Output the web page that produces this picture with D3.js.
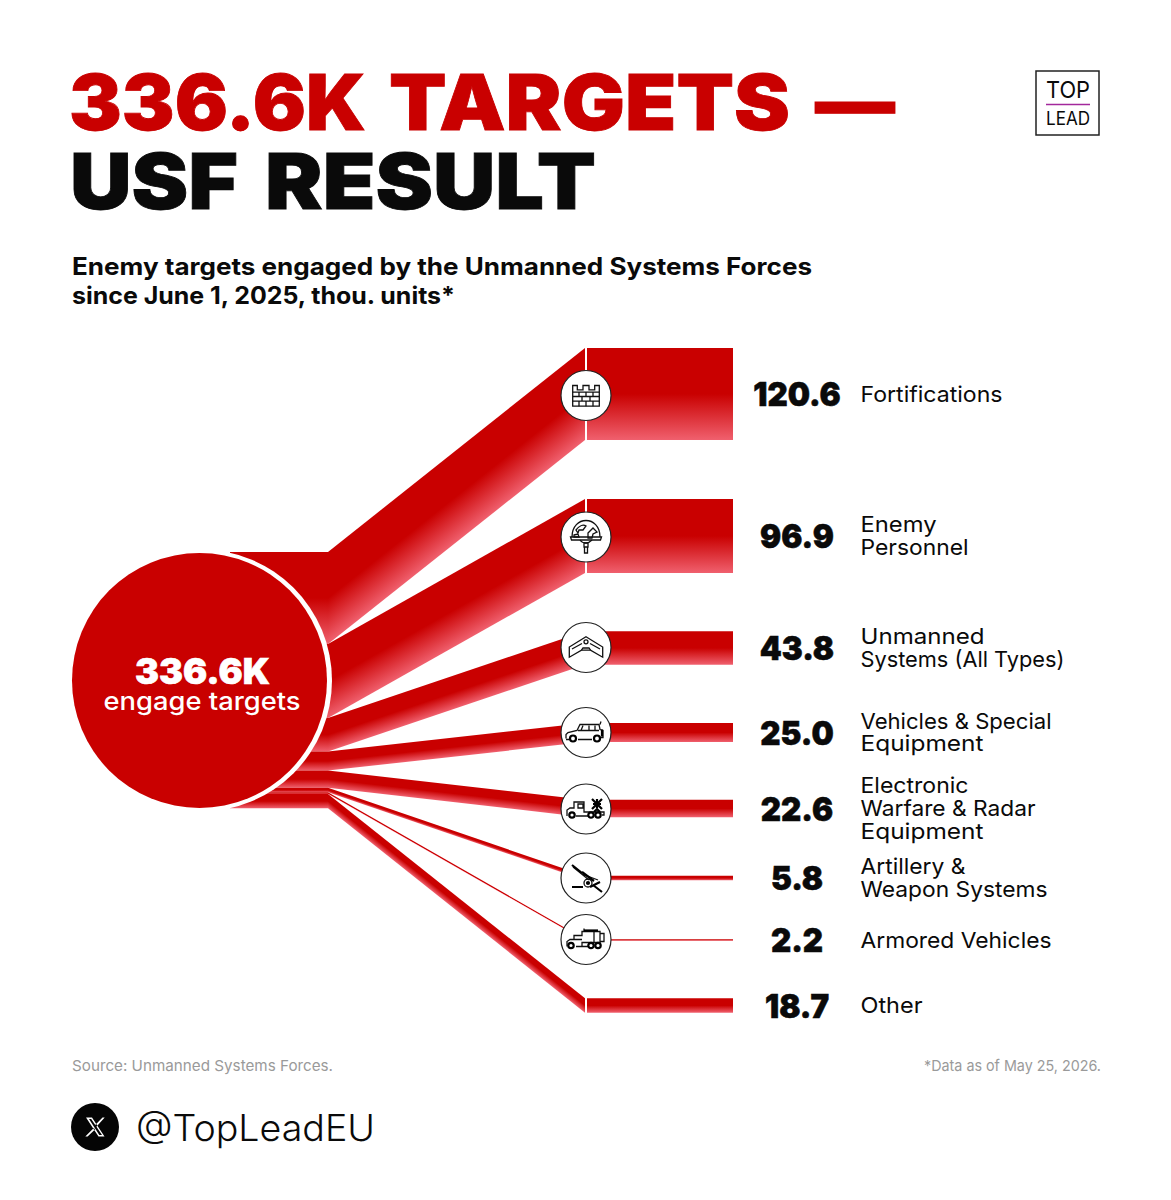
<!DOCTYPE html>
<html>
<head>
<meta charset="utf-8">
<script src="https://cdn.jsdelivr.net/npm/d3@7"></script>
<style>
  html, body { margin: 0; background: #fff; }
  svg { display: block; }
  text { font-family: Inter, "Open Sans", sans-serif; fill: #0a0a0a; }
</style>
</head>
<body>
<svg width="1171" height="1200"></svg>
<script>
const total = 336.6;
const categories = ["Fortifications", "Enemy Personnel", "Unmanned Systems (All Types)", "Vehicles & Special Equipment",
                    "Electronic Warfare & Radar Equipment", "Artillery & Weapon Systems", "Armored Vehicles", "Other"];
const values = [120.6, 96.9, 43.8, 25.0, 22.6, 5.8, 2.2, 18.7];
const labelLines = [["Fortifications"], ["Enemy", "Personnel"], ["Unmanned", "Systems (All Types)"], ["Vehicles & Special", "Equipment"],
                    ["Electronic", "Warfare & Radar", "Equipment"], ["Artillery &", "Weapon Systems"], ["Armored Vehicles"], ["Other"]];
const iconNames = ["wall", "helmet", "drone", "jeep", "radar", "gun", "armored", null];

// drawn width of each label line, the original face is wider than Inter
const lineWidths = { "Fortifications": 142, "Enemy": 76, "Personnel": 108, "Unmanned": 124, "Systems (All Types)": 204,
                     "Vehicles & Special": 191, "Equipment": 123, "Electronic": 108, "Warfare & Radar": 175,
                     "Artillery &": 105, "Weapon Systems": 187, "Armored Vehicles": 191, "Other": 62 };

const red = "#c90000", pink = "#f0606e";
const stackTop = 552, stackLeft = 230, fanX = 328, rowX = 587, rowEnd = 733, iconX = 586, iconR = 25;

const svg = d3.select("svg");
const defs = svg.append("defs");

// band thickness follows the value, row centres are picked by hand like the original layout
const thick = d3.scaleLinear().domain([0, total]).range([0, 257]);
const rowMid = d3.scaleOrdinal().domain(categories).range([394, 536, 648, 732.5, 808.5, 878, 940, 1005.5]);
const iconMid = d3.scaleOrdinal().domain(categories).range([395.5, 537, 647.5, 732.5, 809, 878, 939.5, 1005]);

let running = 0;
const bands = categories.map((name, i) => {
    const h = thick(values[i]);
    const y0 = stackTop + thick(running);
    running += values[i];
    return { name, i, value: values[i], h, y0, top: rowMid(name) - h / 2, lines: labelLines[i], icon: iconNames[i] };
});

function addGradient(id, attrs) {
    const g = defs.append("linearGradient").attr("id", id);
    Object.entries(attrs).forEach(([k, v]) => g.attr(k, v));
    g.append("stop").attr("offset", 0).attr("stop-color", red);
    g.append("stop").attr("offset", 0.5).attr("stop-color", red);
    g.append("stop").attr("offset", 1).attr("stop-color", pink);
}
addGradient("flat", { x1: 0, y1: 0, x2: 0, y2: 1 });

const area = d3.area().x(d => d[0]).y0(d => d[1]).y1(d => d[2]);
const gBands = svg.append("g");

bands.forEach(b => {
    // stub behind the hub
    gBands.append("path").attr("fill", "url(#flat)")
        .attr("d", area([[stackLeft, b.y0, b.y0 + b.h], [fanX, b.y0, b.y0 + b.h]]));

    // sloped part, gradient runs across the band
    const dx = rowX - 2 - fanX, dy = b.top - b.y0;
    const len = Math.hypot(dx, dy);
    const nx = -dy / len, ny = dx / len;
    const across = b.h * dx / len;
    const mx = fanX + dx / 2, my = b.y0 + dy / 2;
    addGradient("slope" + b.i, { gradientUnits: "userSpaceOnUse", x1: mx, y1: my, x2: mx + nx * across, y2: my + ny * across });
    gBands.append("path").attr("fill", `url(#slope${b.i})`)
        .attr("d", area([[fanX, b.y0, b.y0 + b.h], [rowX - 2, b.top, b.top + b.h]]));

    // straight part
    gBands.append("path").attr("fill", "url(#flat)")
        .attr("d", area([[rowX, b.top, b.top + b.h], [rowEnd, b.top, b.top + b.h]]));
});

// hub: the white ring sits off-centre so it only shows on the right
svg.append("circle").attr("cx", 201).attr("cy", 680.5).attr("r", 131).attr("fill", "#fff");
svg.append("circle").attr("cx", 199.5).attr("cy", 680.5).attr("r", 127.5).attr("fill", red);

function put(parent, str, x, y, size, weight, opts = {}) {
    const t = parent.append("text").attr("x", x).attr("y", y).text(str)
        .attr("font-size", size).attr("font-weight", weight)
        .attr("text-anchor", opts.anchor || "start");
    if (opts.fill) t.style("fill", opts.fill);
    if (opts.heavy) t.style("stroke", opts.fill || "#0a0a0a").style("stroke-width", opts.heavy);
    const w = opts.width || (opts.stretch ? t.node().getComputedTextLength() * opts.stretch : 0);
    if (w) t.attr("textLength", w).attr("lengthAdjust", "spacingAndGlyphs");
    return t;
}

// headline words are fitted one by one inside a single text element
function headline(y, words, fill) {
    const t = svg.append("text").attr("y", y).attr("font-size", 77).attr("font-weight", 900)
        .style("fill", fill).style("stroke", fill).style("stroke-width", 0.8);
    words.forEach((w, i) => {
        if (i) t.append("tspan").text(" ");
        t.append("tspan").attr("x", w[1]).attr("textLength", w[2]).attr("lengthAdjust", "spacingAndGlyphs").text(w[0]);
    });
}
headline(130, [["336.6K", 69, 297], ["TARGETS", 389, 401], ["—", 815, 80]], red);
headline(209, [["USF", 70, 168], ["RESULT", 265, 331]], "#0a0a0a");

put(svg, "Enemy targets engaged by the Unmanned Systems Forces", 72, 275, 24, 700, { width: 740 });
put(svg, "since June 1, 2025, thou. units*", 72, 304, 24, 700, { width: 383 });

put(svg, d3.format(".1f")(total) + "K", 202.5, 684, 35, 900, { anchor: "middle", fill: "#fff", width: 135, heavy: 0.6 });
put(svg, "engage targets", 202, 710, 25, 500, { anchor: "middle", fill: "#fff", width: 197 });

// icons, local coordinates around the circle centre
const wheel = (x, y, r) => `M${x - r},${y}a${r},${r} 0 1,0 ${2 * r},0a${r},${r} 0 1,0 ${-2 * r},0`;
const icons = {
    wall: { thin: ["M-13.3,-10h4.6v4.3h5.7v-4.3h6v4.3h5.7v-4.3h4.6v20.7h-26.6z",
                   "M-13.3,-3.3h26.6M-13.3,1h26.6M-13.3,5.7h26.6M-7,-3.3v4.3M0,-3.3v4.3M7,-3.3v4.3M-4,1v4.7M4,1v4.7M-7,5.7v5M0,5.7v5M7,5.7v5"] },
    helmet: { thin: ["M-14,0C-14,-22 14,-22 14,0", "M-15.5,0H15.5L14.5,3H-14.5Z", "M-6,3C-4,6 -2,6 0,6C2,6 4,5 6,3", "M-2,6h4v4h-4zM-1.5,10h3v6h-3z",
                     "M-10,-7c3,-4 7,-6 10,-4l-3,4l-4,0l-1,3zM2,-4l5,-5l4,4l-4,2l-1,4l-4,0zM-12,-2l4,-1l1,3h-5z"] },
    drone: { thin: ["M0,-10.7L16.7,-0.5V9.7L4.5,2.7H-4.5L-16.7,9.7V-0.5Z", "M-14,1.5L-4,-4M14,1.5L4,-4M-4.5,2.7L-3,0.5H3L4.5,2.7", wheel(0, -5.7, 2)] },
    jeep: { thin: ["M-20,6v-4l2,-2l9,-2l3,-6h19l1,5l3,1v7h-4M-8,7h14M-17,7h-3", "M-8,-2h21M-3,-7l-2,5M3,-7v5M9,-7v5", "M14,-8l1,-3"],
            thick: [wheel(-13, 6, 3), wheel(11, 6, 3), "M16,-3v7"] },
    radar: { thin: ["M-19,7v-6l3,-2h4v-6h10v10h20v3h-2M-10,7h12M-8,-5v4h5v-4z"],
             thick: [wheel(-14, 6, 2.7), wheel(5, 6, 2.7), wheel(12, 6, 2.7), "M6,-10L16,0M16,-10L6,0M7,-5h8M11,-10v9M8,3l3,-3l3,3"] },
    gun: { thin: [wheel(2, 5, 4), "M-13,-11L3,2M-4,-4L12,2"],
           thick: [wheel(2, 5, 1), "M-14,-13L-4,-5M-4,-6L8,3", "M-14,9H-3M7,7L16,14M4,9L14,4"] },
    armored: { thin: ["M-19,7v-5l3,-2h4v-4h8v-4h18v11h-18v4M-12,0h8M-10,7h12M14,-6h4v8h-4z", "M-2,-11v3M8,-8v11"],
               thick: [wheel(-15, 6, 2.7), wheel(5, 6, 2.7), wheel(12, 6, 2.7), "M-2,-9h14"] }
};

const rows = svg.append("g").selectAll("g").data(bands).join("g");

rows.filter(d => d.icon).each(function(d) {
    const g = d3.select(this).append("g").attr("transform", `translate(${iconX},${iconMid(d.name)})`);
    g.append("circle").attr("r", iconR).attr("fill", "#fff").attr("stroke", "#222").attr("stroke-width", 1.2);
    g.selectAll("path.thin").data(icons[d.icon].thin).join("path").attr("class", "thin")
        .attr("d", p => p).attr("fill", "none").attr("stroke", "#111").attr("stroke-width", 1.3);
    g.selectAll("path.thick").data(icons[d.icon].thick || []).join("path").attr("class", "thick")
        .attr("d", p => p).attr("fill", "none").attr("stroke", "#000").attr("stroke-width", 2.2);
});

rows.each(function(d) {
    const g = d3.select(this);
    const y = rowMid(d.name);
    put(g, d3.format(".1f")(d.value), 797, y + 12, 33, 900, { anchor: "middle", heavy: 0.6, stretch: 0.95 });
    d.lines.forEach((line, j) => {
        put(g, line, 860.5, y + 7.5 + (j - (d.lines.length - 1) / 2) * 22.7, 22, 400, { width: lineWidths[line] });
    });
});

// footer
put(svg, "Source: Unmanned Systems Forces.", 72, 1071, 15, 400, { fill: "#9a9a9a", width: 261 });
put(svg, "*Data as of May 25, 2026.", 1101, 1071, 15, 400, { anchor: "end", fill: "#9a9a9a", width: 177 });

svg.append("circle").attr("cx", 95).attr("cy", 1127).attr("r", 24).attr("fill", "#050505");
svg.append("path").attr("transform", "translate(95,1127)").attr("fill-rule", "evenodd").attr("fill", "#fff")
    .attr("d", "M-9,-9.5H-3L9.5,9.5H3.5ZM-6,-8L4.3,8H7L-3.8,-8ZM7.5,-9.5H9.7L1.4,-0.2L0.2,-1.9ZM-1.2,1L0,2.6L-7.4,9.5H-9.7Z");
put(svg, "@TopLeadEU", 136, 1141, 37, 300, { width: 239 });

// logo
svg.append("rect").attr("x", 1036).attr("y", 71).attr("width", 63).attr("height", 64)
    .attr("fill", "#fff").attr("stroke", "#222").attr("stroke-width", 1.5);
put(svg, "TOP", 1068, 98, 23, 400, { anchor: "middle", width: 44 });
svg.append("line").attr("x1", 1046).attr("x2", 1090).attr("y1", 104.5).attr("y2", 104.5)
    .attr("stroke", "#a3289c").attr("stroke-width", 1.3);
put(svg, "LEAD", 1068, 125, 18, 400, { anchor: "middle", width: 44 });
</script>
</body>
</html>
